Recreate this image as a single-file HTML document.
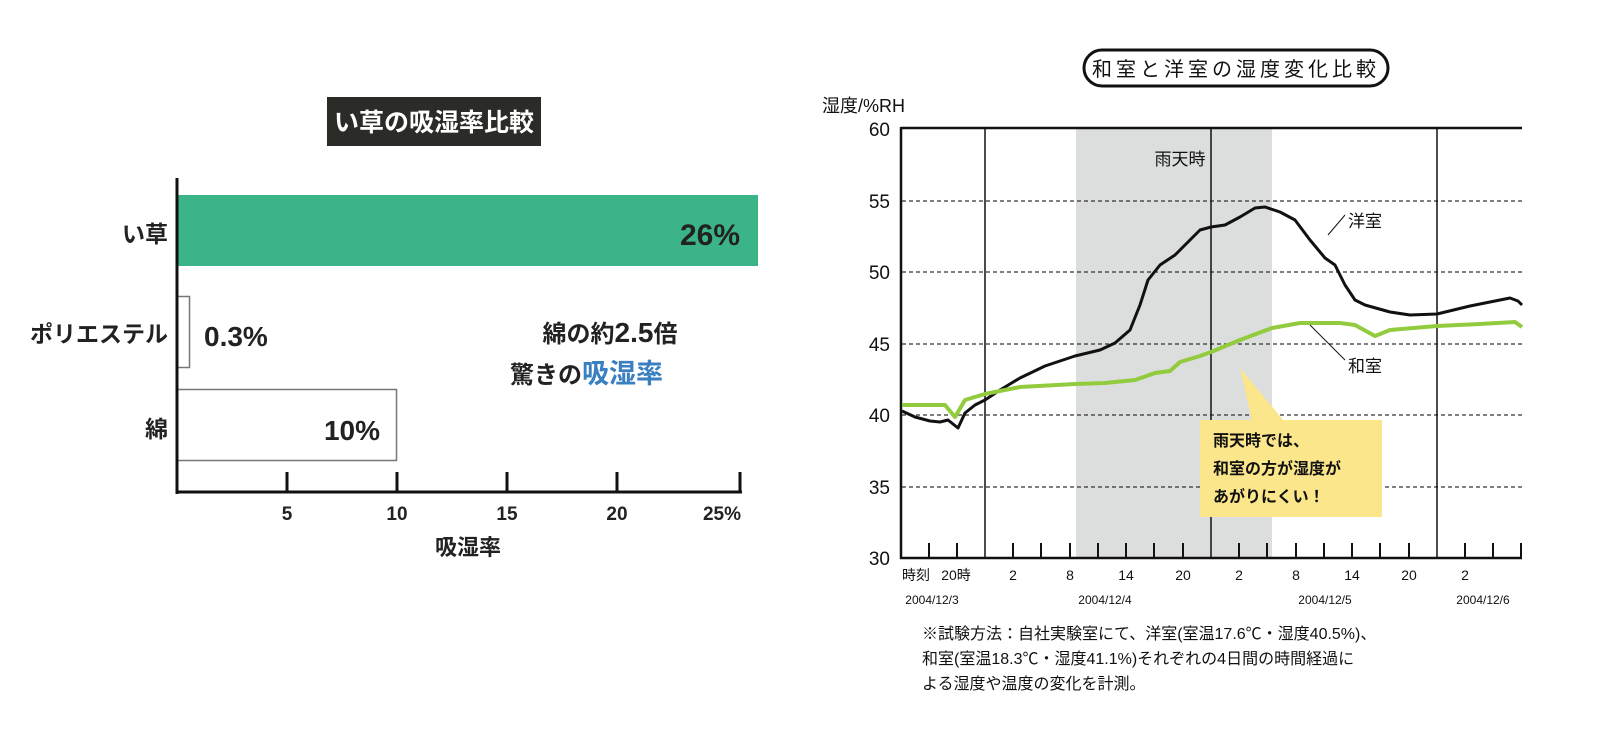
<!DOCTYPE html><html><head><meta charset="utf-8"><style>
body{margin:0;width:1600px;height:732px;background:#fff;overflow:hidden;font-family:"Liberation Sans","Noto Sans CJK JP",sans-serif}
svg text{font-family:"Liberation Sans","Noto Sans CJK JP",sans-serif}
</style></head><body>
<svg width="1600" height="732" viewBox="0 0 1600 732" xmlns="http://www.w3.org/2000/svg">
<!-- Left chart -->
<rect x="327" y="97" width="214" height="49" fill="#2b2b27"/>
<text x="434" y="131" font-size="25" font-weight="bold" fill="#fff" text-anchor="middle">い草の吸湿率比較</text>
<rect x="177" y="195" width="581" height="71" fill="#3bb587"/>
<text x="740" y="245" font-size="30" font-weight="bold" fill="#222" text-anchor="end">26%</text>
<rect x="177.5" y="296.5" width="12" height="71" fill="#fff" stroke="#777" stroke-width="1.5"/>
<text x="204" y="346" font-size="28" font-weight="bold" fill="#222">0.3%</text>
<rect x="177.5" y="389.5" width="219" height="71" fill="#fff" stroke="#777" stroke-width="1.5"/>
<text x="380" y="440" font-size="28" font-weight="bold" fill="#222" text-anchor="end">10%</text>
<text x="168" y="242" font-size="23" font-weight="bold" fill="#222" text-anchor="end">い草</text>
<text x="168" y="342" font-size="23" font-weight="bold" fill="#222" text-anchor="end">ポリエステル</text>
<text x="168" y="437" font-size="23" font-weight="bold" fill="#222" text-anchor="end">綿</text>
<text x="610" y="342" font-size="24" font-weight="bold" fill="#222" text-anchor="middle">綿の約<tspan font-size="28">2.5</tspan>倍</text>
<text x="510" y="383" font-size="24" font-weight="bold" fill="#222">驚きの<tspan fill="#3a7fc0" font-size="27">吸湿率</tspan></text>
<line x1="177" y1="178" x2="177" y2="494" stroke="#111" stroke-width="3"/>
<line x1="176" y1="492" x2="742" y2="492" stroke="#111" stroke-width="3"/>
<g stroke="#111" stroke-width="3">
<line x1="287" y1="472" x2="287" y2="492"/><line x1="397" y1="472" x2="397" y2="492"/><line x1="507" y1="472" x2="507" y2="492"/><line x1="617" y1="472" x2="617" y2="492"/><line x1="740" y1="472" x2="740" y2="492"/></g>
<g font-size="19" font-weight="bold" fill="#222" text-anchor="middle">
<text x="287" y="520">5</text><text x="397" y="520">10</text><text x="507" y="520">15</text><text x="617" y="520">20</text><text x="722" y="520">25%</text></g>
<text x="468" y="555" font-size="22" font-weight="bold" fill="#222" text-anchor="middle">吸湿率</text>

<!-- Right chart -->
<rect x="1084" y="50" width="304" height="36" rx="18" fill="#fff" stroke="#111" stroke-width="3"/>
<text x="1236" y="76" font-size="20" fill="#111" text-anchor="middle" letter-spacing="4">和室と洋室の湿度変化比較</text>
<text x="822" y="112" font-size="18" fill="#111">湿度/%RH</text>
<rect x="1076" y="129" width="196" height="429" fill="#dcdddd"/>
<g stroke="#333" stroke-width="1.3" stroke-dasharray="4,3">
<line x1="902" y1="201" x2="1522" y2="201"/><line x1="902" y1="272" x2="1522" y2="272"/><line x1="902" y1="344" x2="1522" y2="344"/><line x1="902" y1="415" x2="1522" y2="415"/><line x1="902" y1="487" x2="1522" y2="487"/></g>
<g stroke="#111" stroke-width="1.5"><line x1="985" y1="129" x2="985" y2="558"/><line x1="1211" y1="129" x2="1211" y2="558"/><line x1="1437" y1="129" x2="1437" y2="558"/></g>
<line x1="901" y1="128" x2="1522" y2="128" stroke="#111" stroke-width="2.5"/>
<line x1="901" y1="127" x2="901" y2="559" stroke="#111" stroke-width="2.5"/>
<line x1="900" y1="558" x2="1522" y2="558" stroke="#111" stroke-width="2.5"/>
<g stroke="#111" stroke-width="2">
<line x1="929" y1="543" x2="929" y2="558"/><line x1="957" y1="543" x2="957" y2="558"/>
<line x1="1013" y1="543" x2="1013" y2="558"/><line x1="1041" y1="543" x2="1041" y2="558"/><line x1="1070" y1="543" x2="1070" y2="558"/><line x1="1098" y1="543" x2="1098" y2="558"/><line x1="1126" y1="543" x2="1126" y2="558"/><line x1="1154" y1="543" x2="1154" y2="558"/><line x1="1183" y1="543" x2="1183" y2="558"/>
<line x1="1239" y1="543" x2="1239" y2="558"/><line x1="1267" y1="543" x2="1267" y2="558"/><line x1="1296" y1="543" x2="1296" y2="558"/><line x1="1324" y1="543" x2="1324" y2="558"/><line x1="1352" y1="543" x2="1352" y2="558"/><line x1="1380" y1="543" x2="1380" y2="558"/><line x1="1409" y1="543" x2="1409" y2="558"/>
<line x1="1465" y1="543" x2="1465" y2="558"/><line x1="1493" y1="543" x2="1493" y2="558"/><line x1="1521" y1="543" x2="1521" y2="558"/></g>
<g font-size="19" fill="#111" text-anchor="end">
<text x="890" y="136">60</text><text x="890" y="208">55</text><text x="890" y="279">50</text><text x="890" y="351">45</text><text x="890" y="422">40</text><text x="890" y="494">35</text><text x="890" y="565">30</text></g>
<g font-size="14" fill="#111" text-anchor="middle">
<text x="916" y="580">時刻</text><text x="956" y="580">20時</text>
<text x="1013" y="580">2</text><text x="1070" y="580">8</text><text x="1126" y="580">14</text><text x="1183" y="580">20</text>
<text x="1239" y="580">2</text><text x="1296" y="580">8</text><text x="1352" y="580">14</text><text x="1409" y="580">20</text><text x="1465" y="580">2</text></g>
<g font-size="12" fill="#111" text-anchor="middle">
<text x="932" y="604">2004/12/3</text><text x="1105" y="604">2004/12/4</text><text x="1325" y="604">2004/12/5</text><text x="1483" y="604">2004/12/6</text></g>
<text x="1180" y="165" font-size="17" fill="#111" text-anchor="middle">雨天時</text>
<polyline fill="none" stroke="#111" stroke-width="3" stroke-linejoin="round" points="902,411 915,417 930,421 940,422 948,420 958,428 965,413 975,405 985,400 1000,390 1020,378 1045,366 1075,356 1100,350 1115,343 1130,330 1140,305 1148,280 1160,265 1175,255 1190,240 1200,230 1211,227 1225,225 1240,217 1255,208 1265,207 1280,212 1295,220 1310,240 1325,258 1335,265 1345,285 1355,300 1365,305 1390,312 1410,315 1437,314 1470,306 1490,302 1510,298 1518,301 1522,305"/>
<polyline fill="none" stroke="#93cb3e" stroke-width="4" stroke-linejoin="round" points="902,405 945,405 955,417 965,400 985,394 1020,387 1075,384 1105,383 1135,380 1155,373 1170,371 1180,362 1200,356 1211,352 1240,340 1272,328 1300,323 1340,323 1355,325 1375,336 1390,330 1437,326 1480,324 1515,322 1522,327"/>
<line x1="1328" y1="235" x2="1345" y2="215" stroke="#111" stroke-width="1"/>
<text x="1348" y="227" font-size="17" fill="#111">洋室</text>
<line x1="1310" y1="325" x2="1345" y2="360" stroke="#111" stroke-width="1"/>
<text x="1348" y="372" font-size="17" fill="#111">和室</text>
<polygon points="1240,368 1284,421 1252,421" fill="#fbe68b"/>
<rect x="1200" y="420" width="182" height="97" fill="#fbe68b"/>
<g font-size="16" font-weight="bold" fill="#111">
<text x="1213" y="446">雨天時では、</text><text x="1213" y="474">和室の方が湿度が</text><text x="1213" y="502">あがりにくい！</text></g>
<g font-size="16" fill="#111" font-family="'Liberation Serif','Noto Serif CJK SC',serif">
<text x="922" y="639">※試験方法：自社実験室にて、洋室(室温17.6℃・湿度40.5%)、</text>
<text x="922" y="664">和室(室温18.3℃・湿度41.1%)それぞれの4日間の時間経過に</text>
<text x="922" y="689">よる湿度や温度の変化を計測。</text></g>
</svg>
</body></html>
